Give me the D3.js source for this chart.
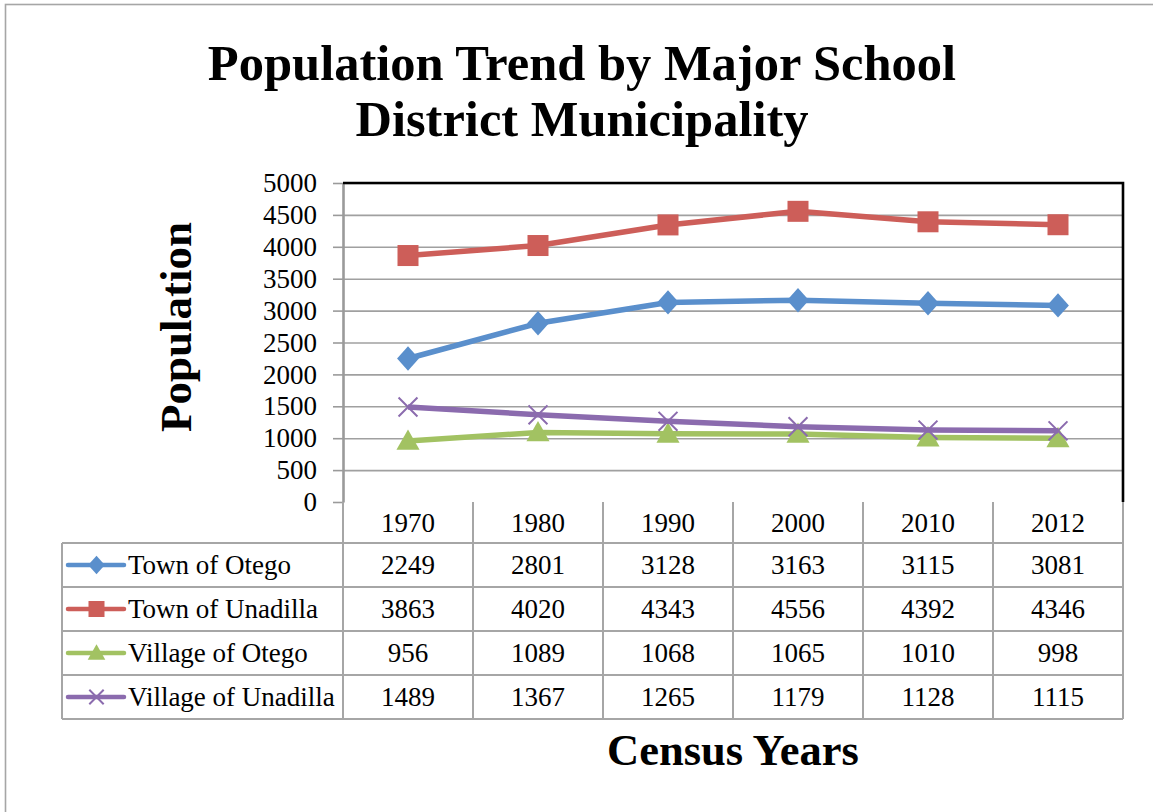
<!DOCTYPE html>
<html>
<head>
<meta charset="utf-8">
<script src="https://cdn.jsdelivr.net/npm/d3@7"></script>
<style>
  html, body { margin: 0; padding: 0; background: #fff; }
  svg { display: block; }
  text { font-family: "Liberation Serif", "Times New Roman", serif; fill: #000; }
</style>
</head>
<body>
<svg id="chart" width="1153" height="812"></svg>
<script>
// Census years and population per municipality
const years = ["1970", "1980", "1990", "2000", "2010", "2012"];
const seriesNames = ["Town of Otego", "Town of Unadilla", "Village of Otego", "Village of Unadilla"];
const townOfOtego = [2249, 2801, 3128, 3163, 3115, 3081];
const townOfUnadilla = [3863, 4020, 4343, 4556, 4392, 4346];
const villageOfOtego = [956, 1089, 1068, 1065, 1010, 998];
const villageOfUnadilla = [1489, 1367, 1265, 1179, 1128, 1115];
const yTicks = [0, 500, 1000, 1500, 2000, 2500, 3000, 3500, 4000, 4500, 5000];

const seriesValues = [townOfOtego, townOfUnadilla, villageOfOtego, villageOfUnadilla];
const colors = ["#5A8FCC", "#CD5E59", "#A2C262", "#8B6BAE"];
const markers = ["diamond", "square", "triangle", "cross"];

const svg = d3.select("#chart");

// outer chart frame (runs past the right and bottom edges)
svg.append("rect")
  .attr("x", 5.5).attr("y", 4.5).attr("width", 1170).attr("height", 830)
  .attr("fill", "none").attr("stroke", "#a6a6a6").attr("stroke-width", 1.6);

// plot geometry
const plotLeft = 343, plotRight = 1123, plotTop = 183, plotBottom = 502;
const x = d3.scaleBand().domain(years).range([plotLeft, plotRight]);
const cx = d => x(d) + x.bandwidth() / 2;
const y = d3.scaleLinear().domain([0, 5000]).range([plotBottom, plotTop]);

// title
const title = svg.append("text")
  .attr("text-anchor", "middle")
  .attr("font-weight", "bold").attr("font-size", 50.5);
title.append("tspan").attr("x", 582).attr("y", 80).text("Population Trend by Major School");
title.append("tspan").attr("x", 582).attr("y", 136).text("District Municipality");

// gridlines
svg.append("g")
  .attr("transform", `translate(${plotLeft},0)`)
  .call(d3.axisLeft(y).tickValues(yTicks.slice(1)).tickSize(-(plotRight - plotLeft)).tickFormat(""))
  .call(g => g.select(".domain").remove())
  .call(g => g.selectAll("line").attr("stroke", "#a0a0a0").attr("stroke-width", 1.6));

// y axis with outward ticks
const yAxis = svg.append("g")
  .attr("transform", `translate(${plotLeft},0)`)
  .call(d3.axisLeft(y).tickValues(yTicks).tickFormat(d3.format("d"))
    .tickSize(10).tickPadding(16).tickSizeOuter(0));
yAxis.select(".domain").attr("stroke", "#9a9a9a").attr("stroke-width", 2.6);
yAxis.selectAll(".tick line").attr("stroke", "#9a9a9a").attr("stroke-width", 1.6);
yAxis.selectAll(".tick text")
  .attr("font-family", "Liberation Serif, serif")
  .attr("font-size", 27).attr("fill", "#000");

// top and right black borders of the plot
svg.append("path")
  .attr("d", `M${plotLeft},${plotTop}H${plotRight}V${plotBottom}`)
  .attr("fill", "none").attr("stroke", "#000").attr("stroke-width", 2.6);

// y axis title
svg.append("text")
  .attr("transform", "translate(191,327) rotate(-90)")
  .attr("text-anchor", "middle")
  .attr("font-weight", "bold").attr("font-size", 45)
  .text("Population");

// marker drawing helper
function drawMarker(g, type, px, py, s, color) {
  if (type === "diamond") {
    g.append("path")
      .attr("d", `M${px},${py - s * 0.58}L${px + s * 0.52},${py}L${px},${py + s * 0.58}L${px - s * 0.52},${py}Z`)
      .attr("fill", color);
  } else if (type === "square") {
    g.append("rect")
      .attr("x", px - s / 2).attr("y", py - s / 2).attr("width", s).attr("height", s)
      .attr("fill", color);
  } else if (type === "triangle") {
    g.append("path")
      .attr("d", `M${px},${py - s * 0.55}L${px + s * 0.55},${py + s * 0.42}L${px - s * 0.55},${py + s * 0.42}Z`)
      .attr("fill", color);
  } else {
    const h = s * 0.45;
    g.append("path")
      .attr("d", `M${px - h},${py - h}L${px + h},${py + h}M${px - h},${py + h}L${px + h},${py - h}`)
      .attr("stroke", color).attr("stroke-width", 2).attr("fill", "none");
  }
}

// series lines and markers
const line = d3.line().x((d, i) => cx(years[i])).y(d => y(d));
seriesValues.forEach((vals, k) => {
  const g = svg.append("g");
  g.append("path")
    .attr("d", line(vals))
    .attr("fill", "none").attr("stroke", colors[k])
    .attr("stroke-width", 5.5).attr("stroke-linejoin", "round");
  vals.forEach((v, i) => drawMarker(g, markers[k], cx(years[i]), y(v), 21, colors[k]));
});

// data table below the plot
const tableLeft = 62;
const headerBottom = 543;
const rowH = 44;
const rowTops = seriesNames.map((_, i) => headerBottom + i * rowH);
const tableBottom = headerBottom + seriesNames.length * rowH;
const grid = svg.append("g").attr("stroke", "#a6a6a6").attr("stroke-width", 2).attr("fill", "none");

// horizontal rules
grid.append("line").attr("x1", tableLeft).attr("x2", plotRight).attr("y1", headerBottom).attr("y2", headerBottom);
rowTops.forEach(t => {
  grid.append("line").attr("x1", tableLeft).attr("x2", plotRight).attr("y1", t + rowH).attr("y2", t + rowH);
});
// vertical rules
grid.append("line").attr("x1", tableLeft).attr("x2", tableLeft).attr("y1", headerBottom).attr("y2", tableBottom);
years.forEach(yr => {
  grid.append("line").attr("x1", x(yr)).attr("x2", x(yr)).attr("y1", plotBottom).attr("y2", tableBottom);
});
grid.append("line").attr("x1", plotRight).attr("x2", plotRight).attr("y1", plotBottom).attr("y2", tableBottom);

// header labels
svg.append("g").selectAll("text").data(years).join("text")
  .attr("x", d => cx(d)).attr("y", (plotBottom + headerBottom) / 2)
  .attr("dy", "0.35em").attr("text-anchor", "middle").attr("font-size", 27)
  .text(d => d);

// series rows: legend key, name and values
seriesNames.forEach((name, k) => {
  const rowMid = rowTops[k] + rowH / 2;
  const g = svg.append("g");
  g.append("line")
    .attr("x1", 68).attr("x2", 124).attr("y1", rowMid).attr("y2", rowMid)
    .attr("stroke", colors[k]).attr("stroke-width", 4.5).attr("stroke-linecap", "round");
  drawMarker(g, markers[k], 96.5, rowMid, 16, colors[k]);
  g.append("text")
    .attr("x", 128).attr("y", rowMid).attr("dy", "0.35em")
    .attr("font-size", 27).text(name);
  g.selectAll("text.val").data(seriesValues[k]).join("text")
    .attr("class", "val")
    .attr("x", (d, i) => cx(years[i])).attr("y", rowMid).attr("dy", "0.35em")
    .attr("text-anchor", "middle").attr("font-size", 27)
    .text(d => d);
});

// x axis title
svg.append("text")
  .attr("x", 733).attr("y", 765)
  .attr("text-anchor", "middle")
  .attr("font-weight", "bold").attr("font-size", 44.5)
  .text("Census Years");
</script>
</body>
</html>
